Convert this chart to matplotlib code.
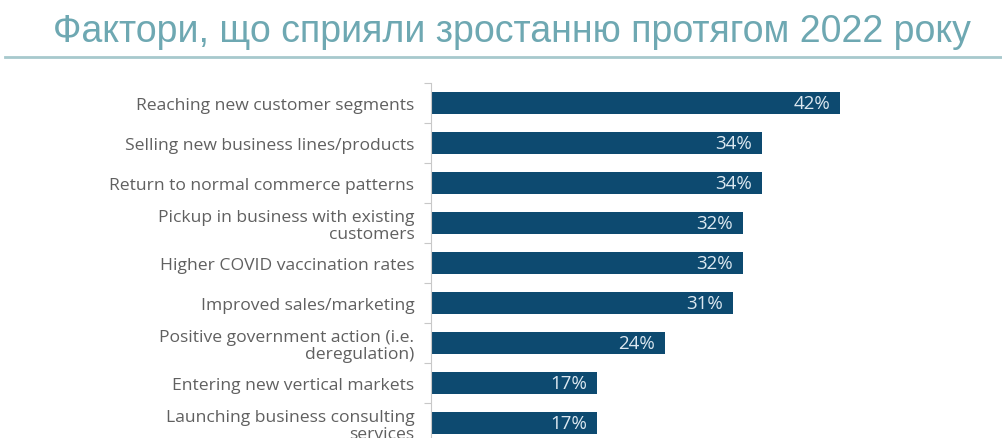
import numpy as np
import matplotlib.pyplot as plt

# drivers of growth, top to bottom
factors = [
    "Reaching new customer segments",
    "Selling new business lines/products",
    "Return to normal commerce patterns",
    "Pickup in business with existing\ncustomers",
    "Higher COVID vaccination rates",
    "Improved sales/marketing",
    "Positive government action (i.e.\nderegulation)",
    "Entering new vertical markets",
    "Launching business consulting\nservices",
]
shares = [42, 34, 34, 32, 32, 31, 24, 17, 17]

title = "Фактори, що сприяли зростанню протягом 2022 року"

bar_color = "#0d4a70"
label_color = "#606060"
title_color = "#6ea8b2"

fig = plt.figure(figsize=(10.02, 4.39), dpi=100)
fig.patch.set_facecolor("white")

# title and the rule under it
fig.text(0.511, 0.928, title, ha="center", va="center", fontsize=27,
         color=title_color, family=["Liberation Sans", "DejaVu Sans"])
fig.add_artist(plt.Line2D([0.005, 1.0], [0.867, 0.867], color="#a7c9cd",
                          linewidth=2.0, transform=fig.transFigure))

# one bar slot = 40 px, first slot starts at y=84 px
ax = fig.add_axes([431 / 1002, -5 / 439, 500 / 1002, 360 / 439])
y = np.arange(len(factors))
ax.barh(y, shares, height=0.53, color=bar_color)
ax.set_xlim(0, 500 / 9.74)
ax.set_ylim(len(factors) - 0.5, -0.5)

for yi, v in zip(y, shares):
    ax.text(v - 1.0, yi, f"{v}%", ha="right", va="center", fontsize=13.5,
            color="#dce8f0", family="Open Sans")

ax.set_yticks(y)
ax.set_yticklabels(factors, fontsize=12.6, color=label_color,
                   family="Open Sans", linespacing=1.05)
ax.tick_params(axis="y", which="major", length=0, pad=12)
ax.set_yticks(np.arange(-0.5, len(factors), 1), minor=True)
ax.tick_params(axis="y", which="minor", length=5, color="#c8c8c8", width=0.8)
ax.set_xticks([])

for side in ["top", "right", "bottom"]:
    ax.spines[side].set_visible(False)
ax.spines["left"].set_color("#c8c8c8")
ax.spines["left"].set_linewidth(0.8)

fig.savefig("out.png", dpi=100)
